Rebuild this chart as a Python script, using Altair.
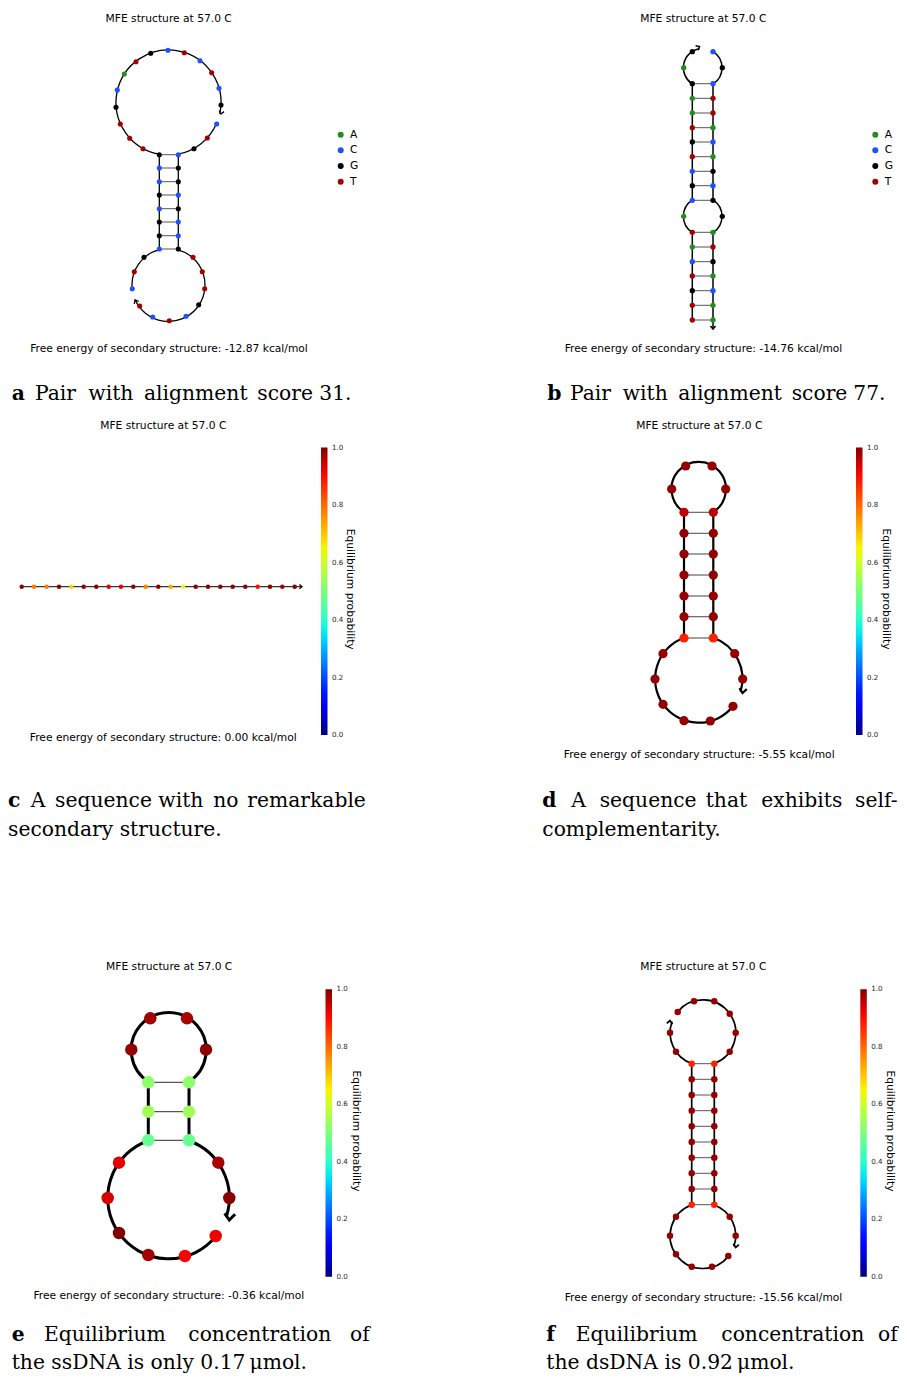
import math
import altair as alt
import pandas as pd

# ---------------------------------------------------------------- colours
BASES = ["A", "C", "G", "T"]
BASE_HEX = ["#228b22", "#1f4fff", "#000000", "#a50000"]
BASE_COLOR = dict(zip(BASES, BASE_HEX))

# matplotlib "jet" colormap break points
JET_POS = [0.0, 0.11, 0.125, 0.34, 0.35, 0.375, 0.64, 0.65, 0.66, 0.89, 0.91, 1.0]
JET_HEX = ["#000080", "#0000ff", "#0000ff", "#00dbff", "#00e6f7", "#15ffe2",
           "#eeff08", "#f7f500", "#ffec00", "#ff1300", "#ff0000", "#800000"]
PROB_TICKS = [0.0, 0.2, 0.4, 0.6, 0.8, 1.0]
PROB_TICK_LABELS = ["0.0", "0.2", "0.4", "0.6", "0.8", "1.0"]

TITLE = "MFE structure at 57.0 C"
ENERGY_FMT = "Free energy of secondary structure: {} kcal/mol"
ENERGIES = ["-12.87", "-14.76", "0.00", "-5.55", "-0.36", "-15.56"]

# ---------------------------------------------------------------- panel a
A_LOOP_X = [221.0, 219.0, 211.7, 200.0, 184.3, 168.0, 150.7, 136.0, 124.3, 117.3, 116.0,
            120.3, 129.7, 143.0, 194.0, 207.3, 216.7,
            193.0, 202.3, 204.7, 198.7, 186.0, 169.3, 152.7, 139.7, 132.3, 134.3, 144.0]
A_LOOP_Y = [105.0, 88.3, 72.7, 60.7, 52.7, 50.3, 53.3, 61.7, 74.0, 90.0, 107.3,
            124.0, 138.3, 148.7, 148.7, 138.0, 124.0,
            257.3, 271.7, 288.7, 304.7, 316.3, 320.7, 317.0, 306.0, 288.7, 271.7, 257.3]
A_LOOP_BASES = list("GCTCTCGTACGTTTGTC" + "TTTGCTCTCTG")
A_STEM_XL, A_STEM_XR = 159.3, 178.3
A_STEM_Y = [154.7, 168.0, 181.7, 195.0, 208.7, 222.0, 235.7, 249.0]
A_STEM_GROUP = [0, 0, 0, 0, 0, 0, 0, 0]
A_STEM_LEFT = list("GCCGCGGC")
A_STEM_RIGHT = list("CGGCGCCG")
A_CIRCLE_X = [168.5, 168.5]
A_CIRCLE_Y = [102.5, 285.0]
A_CIRCLE_R = [52.5, 36.5]
A_ARC_CIRCLE = [0, 0, 1, 1]
A_ARC_FROM = [-170.0, 114.0, 15.2, -95.8]
A_ARC_TO = [102.4, 169.4, 246.0, -14.3]
A_ARROW_X = [221.0, 135.0]
A_ARROW_Y = [114.0, 300.0]
A_ARROW_DIR = [192, 330]
A_LEGEND_X = 340.7
LEGEND_Y = [134.7, 150.3, 166.0, 181.7]

# ---------------------------------------------------------------- panel b
B_LOOP_X = [692.3, 713.0, 722.3, 683.7, 683.7, 722.3]
B_LOOP_Y = [51.7, 51.7, 67.7, 67.7, 216.3, 216.3]
B_LOOP_BASES = list("GCGAAG")
B_STEM_XL, B_STEM_XR = 692.3, 713.0
B_STEM_Y = [83.7, 98.3, 113.0, 127.7, 142.0, 156.7, 171.3, 185.7, 200.3,
            232.3, 247.0, 261.7, 276.0, 290.7, 305.3, 320.0]
B_STEM_GROUP = [0, 0, 0, 0, 0, 0, 0, 0, 0, 1, 1, 1, 1, 1, 1, 1]
B_STEM_LEFT = list("GAATGTCGC" + "TACTGTT")
B_STEM_RIGHT = list("CTTACAGCG" + "ATGACAA")
B_CIRCLE_X = [702.7, 702.7]
B_CIRCLE_Y = [67.7, 216.3]
B_CIRCLE_R = [19.3, 19.3]
B_ARC_CIRCLE = [0, 0, 1, 1]
B_ARC_FROM = [-147.0, 33.0, -147.0, 33.0]
B_ARC_TO = [-10.0, 147.0, -33.0, 147.0]
B_ARROW_X = [699.5, 713.0]
B_ARROW_Y = [46.5, 329.0]
B_ARROW_DIR = [60, 180]
B_TAIL = [(713.0, 320.0, 713.0, 328.0)]
B_LEGEND_X = 875.3

# ---------------------------------------------------------------- panel c
C_NODE_X = [21.7, 34.0, 46.7, 59.0, 71.3, 83.7, 96.3, 108.7, 121.0, 133.3, 145.7, 158.3,
            170.7, 183.0, 195.7, 208.0, 220.3, 232.7, 245.3, 257.7, 270.0, 282.3, 294.7]
C_NODE_Y = [586.7] * 23
C_PROB = [0.99, 0.78, 0.78, 0.99, 0.69, 0.99, 0.99, 0.92, 0.92, 0.99, 0.77, 0.99,
          0.73, 0.61, 0.99, 0.99, 0.99, 0.99, 0.99, 0.89, 0.99, 0.975, 0.99]
C_TAIL = [(21.7, 586.7, 301.0, 586.7)]
C_ARROW_X = [302.0]
C_ARROW_Y = [586.7]
C_ARROW_DIR = [90]

# ---------------------------------------------------------------- panel d
D_LOOP_X = [685.7, 712.0, 725.7, 671.7, 734.7, 742.7, 733.0, 710.3, 684.0, 663.0, 655.0, 663.0]
D_LOOP_Y = [466.0, 466.0, 489.0, 489.0, 653.7, 679.0, 706.3, 721.0, 720.7, 704.3, 679.0, 653.7]
D_LOOP_P = [0.985, 0.985, 0.985, 0.985, 0.985, 0.985, 0.985, 0.985, 0.985, 0.985, 0.985, 0.985]
D_STEM_XL, D_STEM_XR = 684.0, 713.3
D_STEM_Y = [512.3, 533.3, 554.0, 575.0, 596.0, 616.7, 638.0]
D_STEM_GROUP = [0, 0, 0, 0, 0, 0, 0]
D_STEM_PL = [0.955, 0.985, 0.985, 0.985, 0.985, 0.985, 0.875]
D_STEM_PR = [0.955, 0.985, 0.985, 0.985, 0.985, 0.985, 0.875]
D_CIRCLE_X = [698.7, 698.8]
D_CIRCLE_Y = [489.0, 679.0]
D_CIRCLE_R = [27.2, 43.7]
D_ARC_CIRCLE = [0, 1, 1]
D_ARC_FROM = [-148.0, 19.5, 128.6]
D_ARC_TO = [148.0, 107.0, 340.5]
D_ARROW_X = [742.5]
D_ARROW_Y = [693.0]
D_ARROW_DIR = [188]

# ---------------------------------------------------------------- panel e
E_LOOP_X = [150.3, 187.0, 206.0, 131.3, 218.3, 229.3, 215.7, 185.0, 148.3, 119.0, 107.7, 119.0]
E_LOOP_Y = [1018.3, 1018.3, 1049.7, 1049.7, 1162.7, 1198.0, 1236.0, 1256.0, 1255.0, 1233.0, 1198.0, 1162.7]
E_LOOP_P = [0.975, 0.97, 0.99, 0.985, 0.97, 0.995, 0.92, 0.91, 0.975, 1.0, 0.94, 0.93]
E_STEM_XL, E_STEM_XR = 148.3, 189.0
E_STEM_Y = [1082.3, 1111.7, 1140.3]
E_STEM_GROUP = [0, 0, 0]
E_STEM_PL = [0.52, 0.545, 0.475]
E_STEM_PR = [0.52, 0.545, 0.475]
E_CIRCLE_X = [168.7, 168.5]
E_CIRCLE_Y = [1050.0, 1198.0]
E_CIRCLE_R = [37.5, 60.8]
E_ARC_CIRCLE = [0, 1, 1]
E_ARC_FROM = [-148.0, 19.6, 128.8]
E_ARC_TO = [148.0, 108.0, 340.4]
E_ARROW_X = [229.3]
E_ARROW_Y = [1220.0]
E_ARROW_DIR = [185]

# ---------------------------------------------------------------- panel f
F_LOOP_X = [694.0, 714.3, 729.7, 735.7, 729.7, 676.0, 670.0, 677.7,
            729.7, 735.7, 728.3, 712.0, 691.7, 676.0, 670.0, 676.0]
F_LOOP_Y = [1001.3, 1001.3, 1013.7, 1032.7, 1051.7, 1051.7, 1032.7, 1012.0,
            1216.7, 1235.7, 1256.0, 1266.7, 1266.7, 1254.3, 1235.7, 1216.7]
F_LOOP_P = [0.985, 0.985, 0.985, 0.985, 0.985, 0.985, 0.985, 0.985,
            0.985, 0.985, 0.985, 0.985, 0.985, 0.985, 0.985, 0.985]
F_STEM_XL, F_STEM_XR = 691.7, 714.3
F_STEM_Y = [1063.7, 1079.3, 1095.0, 1110.7, 1126.3, 1142.0, 1157.7, 1173.3, 1189.0, 1204.7]
F_STEM_GROUP = [0, 0, 0, 0, 0, 0, 0, 0, 0, 0]
F_STEM_PL = [0.875, 0.985, 0.985, 0.985, 0.985, 0.985, 0.985, 0.985, 0.985, 0.875]
F_STEM_PR = [0.875, 0.985, 0.985, 0.985, 0.985, 0.985, 0.985, 0.985, 0.985, 0.875]
F_CIRCLE_X = [702.9, 702.9]
F_CIRCLE_Y = [1032.7, 1235.7]
F_CIRCLE_R = [32.8, 32.8]
F_ARC_CIRCLE = [0, 0, 1, 1]
F_ARC_FROM = [-160.0, -50.5, 20.4, 128.5]
F_ARC_TO = [-70.0, 160.0, 109.0, 339.6]
F_ARROW_X = [670.0, 735.7]
F_ARROW_Y = [1020.5, 1247.5]
F_ARROW_DIR = [8, 188]

# ---------------------------------------------------------------- text
PANEL_TITLE_POS = [(168.7, 19.3), (703.3, 19.3), (163.3, 425.7), (699.3, 425.7), (169.2, 967.3), (703.3, 967.3)]
PANEL_ENERGY_POS = [(169.0, 349.3), (703.5, 349.3), (163.3, 738.3), (699.2, 755.0), (168.8, 1295.7), (703.5, 1297.7)]
CBAR_POS = [(321.0, 447.5), (856.0, 447.5), (325.5, 989.3), (860.3, 989.3)]
CBAR_LEN = 287.5
CBAR_THICK = 6.5
CBAR_TITLE_POS = [(350.3, 589.2), (885.7, 589.0), (355.7, 1131.0), (889.7, 1131.0)]
CBAR_TITLE = "Equilibrium probability"

CAPTION_BOLD = [("a", 11.7, 400.0), ("b", 547.3, 400.0), ("c", 8.0, 806.7),
                ("d", 542.3, 806.7), ("e", 11.7, 1341.0), ("f", 546.3, 1341.0)]
CAPTION_WORDS = [
    ("Pair", 35.0, 400.0), ("with", 88.3, 400.0), ("alignment", 144.0, 400.0),
    ("score", 257.3, 400.0), ("31.", 319.3, 400.0),
    ("Pair", 570.0, 400.0), ("with", 622.7, 400.0), ("alignment", 678.3, 400.0),
    ("score", 791.7, 400.0), ("77.", 853.3, 400.0),
    ("A", 30.7, 806.7), ("sequence", 55.0, 806.7), ("with", 158.3, 806.7),
    ("no", 213.3, 806.7), ("remarkable", 247.3, 806.7),
    ("secondary structure.", 8.0, 835.5),
    ("A", 571.3, 806.7), ("sequence", 599.7, 806.7), ("that", 705.7, 806.7),
    ("exhibits", 761.3, 806.7), ("self-", 855.0, 806.7),
    ("complementarity.", 542.3, 835.5),
    ("Equilibrium", 44.0, 1341.0), ("concentration", 188.3, 1341.0), ("of", 350.0, 1341.0),
    ("the ssDNA is only 0.17\u2009\u03bcmol.", 11.7, 1369.0),
    ("Equilibrium", 575.7, 1341.0), ("concentration", 721.3, 1341.0), ("of", 878.0, 1341.0),
    ("the dsDNA is 0.92\u2009\u03bcmol.", 546.3, 1369.0),
]

# ---------------------------------------------------------------- styles
NODE_SIZE = {"a": 26, "b": 28, "c": 20, "d": 85, "e": 155, "f": 42, "legend": 36}
BACKBONE_W = {"a": 1.3, "b": 1.5, "c": 1.3, "d": 2.2, "e": 3.0, "f": 1.7}
PAIR_W = {"a": 1.0, "b": 1.0, "d": 1.1, "e": 1.3, "f": 1.0}
ARROW_SIZE = {"a": 24, "b": 26, "c": 18, "d": 55, "e": 110, "f": 32}
PAIR_COLOR = "#555555"
CHEVRON = "M-1,-1.2L0,0L1,-1.2"
SANS = "DejaVu Sans"
SERIF = "DejaVu Serif"
SANS_SIZE = 10.7
TICK_SIZE = 7.1
CAPTION_SIZE = 20.3

# ---------------------------------------------------------------- build tables
arcs, rules, base_nodes, arrows = [], [], [], []
prob_nodes = {p: [] for p in "cdef"}


def add_arcs(p, cx, cy, cr, circ, t0, t1):
    for c, a0, a1 in zip(circ, t0, t1):
        arcs.append(dict(x=cx[c], y=cy[c], r=cr[c], t0=math.radians(a0),
                         t1=math.radians(a1), sw=BACKBONE_W[p]))


def add_stem(p, xl, xr, ys, groups):
    for y in ys:
        rules.append(dict(x=xl, y=y, x2=xr, y2=y, col=PAIR_COLOR, sw=PAIR_W[p]))
    for g in sorted(set(groups)):
        gy = [y for y, gg in zip(ys, groups) if gg == g]
        for x in (xl, xr):
            rules.append(dict(x=x, y=min(gy), x2=x, y2=max(gy), col="#000000", sw=BACKBONE_W[p]))


def add_tails(p, tails):
    for (x0, y0, x1, y1) in tails:
        rules.append(dict(x=x0, y=y0, x2=x1, y2=y1, col="#333333" if p == "c" else "#000000",
                          sw=BACKBONE_W[p]))


def add_arrows(p, xs, ys, dirs):
    for x, y, d in zip(xs, ys, dirs):
        arrows.append(dict(x=x, y=y, s=ARROW_SIZE[p], rot=(d - 180) % 360, sw=BACKBONE_W[p]))


def add_base_nodes(p, xs, ys, bases):
    for x, y, b in zip(xs, ys, bases):
        base_nodes.append(dict(x=x, y=y, col=BASE_COLOR[b], s=NODE_SIZE[p]))


def add_prob_nodes(p, xs, ys, probs):
    for x, y, v in zip(xs, ys, probs):
        prob_nodes[p].append(dict(x=x, y=y, p=v, s=NODE_SIZE[p]))


# panel a
add_arcs("a", A_CIRCLE_X, A_CIRCLE_Y, A_CIRCLE_R, A_ARC_CIRCLE, A_ARC_FROM, A_ARC_TO)
add_stem("a", A_STEM_XL, A_STEM_XR, A_STEM_Y, A_STEM_GROUP)
add_arrows("a", A_ARROW_X, A_ARROW_Y, A_ARROW_DIR)
add_base_nodes("a", A_LOOP_X, A_LOOP_Y, A_LOOP_BASES)
add_base_nodes("a", [A_STEM_XL] * len(A_STEM_Y), A_STEM_Y, A_STEM_LEFT)
add_base_nodes("a", [A_STEM_XR] * len(A_STEM_Y), A_STEM_Y, A_STEM_RIGHT)
add_base_nodes("legend", [A_LEGEND_X] * 4, LEGEND_Y, BASES)
# panel b
add_arcs("b", B_CIRCLE_X, B_CIRCLE_Y, B_CIRCLE_R, B_ARC_CIRCLE, B_ARC_FROM, B_ARC_TO)
add_stem("b", B_STEM_XL, B_STEM_XR, B_STEM_Y, B_STEM_GROUP)
add_tails("b", B_TAIL)
add_arrows("b", B_ARROW_X, B_ARROW_Y, B_ARROW_DIR)
add_base_nodes("b", B_LOOP_X, B_LOOP_Y, B_LOOP_BASES)
add_base_nodes("b", [B_STEM_XL] * len(B_STEM_Y), B_STEM_Y, B_STEM_LEFT)
add_base_nodes("b", [B_STEM_XR] * len(B_STEM_Y), B_STEM_Y, B_STEM_RIGHT)
add_base_nodes("legend", [B_LEGEND_X] * 4, LEGEND_Y, BASES)
# panel c
add_tails("c", C_TAIL)
add_arrows("c", C_ARROW_X, C_ARROW_Y, C_ARROW_DIR)
add_prob_nodes("c", C_NODE_X, C_NODE_Y, C_PROB)
# panel d
add_arcs("d", D_CIRCLE_X, D_CIRCLE_Y, D_CIRCLE_R, D_ARC_CIRCLE, D_ARC_FROM, D_ARC_TO)
add_stem("d", D_STEM_XL, D_STEM_XR, D_STEM_Y, D_STEM_GROUP)
add_arrows("d", D_ARROW_X, D_ARROW_Y, D_ARROW_DIR)
add_prob_nodes("d", D_LOOP_X, D_LOOP_Y, D_LOOP_P)
add_prob_nodes("d", [D_STEM_XL] * len(D_STEM_Y), D_STEM_Y, D_STEM_PL)
add_prob_nodes("d", [D_STEM_XR] * len(D_STEM_Y), D_STEM_Y, D_STEM_PR)
# panel e
add_arcs("e", E_CIRCLE_X, E_CIRCLE_Y, E_CIRCLE_R, E_ARC_CIRCLE, E_ARC_FROM, E_ARC_TO)
add_stem("e", E_STEM_XL, E_STEM_XR, E_STEM_Y, E_STEM_GROUP)
add_arrows("e", E_ARROW_X, E_ARROW_Y, E_ARROW_DIR)
add_prob_nodes("e", E_LOOP_X, E_LOOP_Y, E_LOOP_P)
add_prob_nodes("e", [E_STEM_XL] * len(E_STEM_Y), E_STEM_Y, E_STEM_PL)
add_prob_nodes("e", [E_STEM_XR] * len(E_STEM_Y), E_STEM_Y, E_STEM_PR)
# panel f
add_arcs("f", F_CIRCLE_X, F_CIRCLE_Y, F_CIRCLE_R, F_ARC_CIRCLE, F_ARC_FROM, F_ARC_TO)
add_stem("f", F_STEM_XL, F_STEM_XR, F_STEM_Y, F_STEM_GROUP)
add_arrows("f", F_ARROW_X, F_ARROW_Y, F_ARROW_DIR)
add_prob_nodes("f", F_LOOP_X, F_LOOP_Y, F_LOOP_P)
add_prob_nodes("f", [F_STEM_XL] * len(F_STEM_Y), F_STEM_Y, F_STEM_PL)
add_prob_nodes("f", [F_STEM_XR] * len(F_STEM_Y), F_STEM_Y, F_STEM_PR)

sans_center = []
for (x, y) in PANEL_TITLE_POS:
    sans_center.append(dict(x=x, y=y, t=TITLE))
for (x, y), e in zip(PANEL_ENERGY_POS, ENERGIES):
    sans_center.append(dict(x=x, y=y, t=ENERGY_FMT.format(e)))
sans_left = []
for lx in (A_LEGEND_X, B_LEGEND_X):
    for b, y in zip(BASES, LEGEND_Y):
        sans_left.append(dict(x=lx + 9.4, y=y, t=b, fs=SANS_SIZE, col="#000000"))
for (bx, by) in CBAR_POS:
    for v, lab in zip(PROB_TICKS, PROB_TICK_LABELS):
        sans_left.append(dict(x=bx + CBAR_THICK + 4.5, y=by + (1 - v) * CBAR_LEN, t=lab,
                              fs=TICK_SIZE, col="#262626"))
rot_titles = [dict(x=x, y=y, t=CBAR_TITLE) for (x, y) in CBAR_TITLE_POS]
bold_caps = [dict(x=x, y=y, t=t) for (t, x, y) in CAPTION_BOLD]
word_caps = [dict(x=x, y=y, t=t) for (t, x, y) in CAPTION_WORDS]

# ---------------------------------------------------------------- chart
W, H = 891, 1366
X = alt.X("x:Q", scale=alt.Scale(domain=[8, 8 + W], nice=False, zero=False), axis=None)
Y = alt.Y("y:Q", scale=alt.Scale(domain=[8, 8 + H], nice=False, zero=False, reverse=True), axis=None)
JET = alt.Scale(domain=JET_POS, range=JET_HEX, interpolate="rgb", nice=False, zero=False, clamp=True)

arc_layer = alt.Chart(pd.DataFrame(arcs)).mark_arc(filled=False, color="black").encode(
    x=X, y=Y,
    theta=alt.Theta("t0:Q", scale=None, stack=None),
    theta2=alt.Theta2("t1"),
    radius=alt.Radius("r:Q", scale=None),
    radius2=alt.Radius2("r"),
    strokeWidth=alt.StrokeWidth("sw:Q", scale=None, legend=None),
)

rule_layer = alt.Chart(pd.DataFrame(rules)).mark_rule().encode(
    x=X, y=Y, x2=alt.X2("x2"), y2=alt.Y2("y2"),
    color=alt.Color("col:N", scale=None),
    strokeWidth=alt.StrokeWidth("sw:Q", scale=None, legend=None),
)

base_layer = alt.Chart(pd.DataFrame(base_nodes)).mark_point(filled=True, opacity=1, strokeWidth=0).encode(
    x=X, y=Y,
    color=alt.Color("col:N", scale=None),
    size=alt.Size("s:Q", scale=None, legend=None),
)

prob_layers = []
for p, (bx, by) in zip("cdef", CBAR_POS):
    prob_layers.append(
        alt.Chart(pd.DataFrame(prob_nodes[p])).mark_point(filled=True, opacity=1, strokeWidth=0).encode(
            x=X, y=Y,
            size=alt.Size("s:Q", scale=None, legend=None),
            color=alt.Color(
                "p:Q", scale=JET, title=None,
                legend=alt.Legend(
                    orient="none", legendX=bx - 8, legendY=by - 8, direction="vertical",
                    type="gradient", gradientLength=CBAR_LEN, gradientThickness=CBAR_THICK,
                    gradientStrokeWidth=0, values=PROB_TICKS, labelOpacity=0,
                    labelFontSize=1, padding=0, offset=0,
                ),
            ),
        )
    )

arrow_layer = alt.Chart(pd.DataFrame(arrows)).mark_point(
    shape=CHEVRON, filled=False, color="black", opacity=1, strokeJoin="miter"
).encode(
    x=X, y=Y,
    size=alt.Size("s:Q", scale=None, legend=None),
    angle=alt.Angle("rot:Q", scale=None),
    strokeWidth=alt.StrokeWidth("sw:Q", scale=None, legend=None),
)

sans_c = alt.Chart(pd.DataFrame(sans_center)).mark_text(
    font=SANS, fontSize=SANS_SIZE, align="center", baseline="middle", color="black"
).encode(x=X, y=Y, text="t:N")
sans_l = alt.Chart(pd.DataFrame(sans_left)).mark_text(
    font=SANS, align="left", baseline="middle"
).encode(x=X, y=Y, text="t:N", size=alt.Size("fs:Q", scale=None, legend=None),
         color=alt.Color("col:N", scale=None))
rot_t = alt.Chart(pd.DataFrame(rot_titles)).mark_text(
    font=SANS, fontSize=SANS_SIZE, align="center", baseline="middle", angle=90, color="black"
).encode(x=X, y=Y, text="t:N")
cap_b = alt.Chart(pd.DataFrame(bold_caps)).mark_text(
    font=SERIF, fontSize=CAPTION_SIZE, fontWeight="bold", align="left", baseline="alphabetic", color="black"
).encode(x=X, y=Y, text="t:N")
cap_w = alt.Chart(pd.DataFrame(word_caps)).mark_text(
    font=SERIF, fontSize=CAPTION_SIZE, align="left", baseline="alphabetic", color="black"
).encode(x=X, y=Y, text="t:N")

chart = alt.layer(
    rule_layer, arc_layer, base_layer, *prob_layers, arrow_layer,
    sans_c, sans_l, rot_t, cap_b, cap_w,
).resolve_scale(color="independent").properties(
    width=W, height=H, padding=0
).configure_view(strokeWidth=0)

chart.save("out.html", embed_options={"renderer": "svg", "actions": False})
